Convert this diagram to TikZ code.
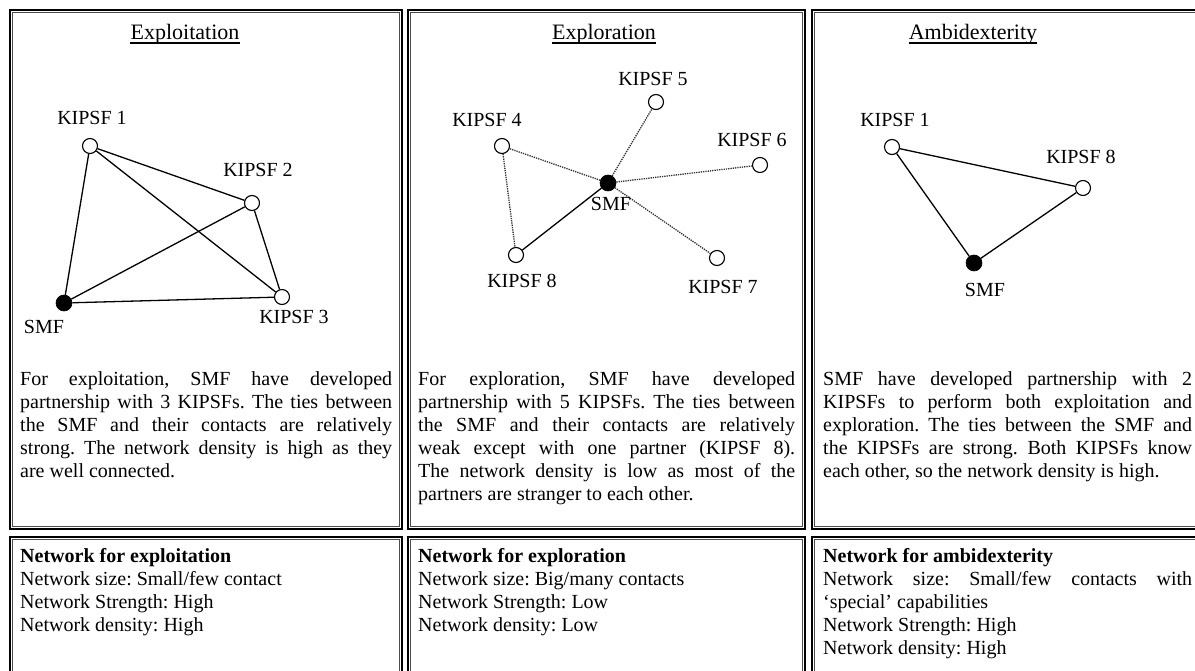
\documentclass[tikz,border=0pt]{standalone}
\usepackage{fontspec}
\setmainfont{Liberation Serif}
\hyphenpenalty=10000
\exhyphenpenalty=10000
\frenchspacing
\newcommand{\parsetup}{\frenchspacing\lefthyphenmin=62\righthyphenmin=62\hyphenpenalty=10000\exhyphenpenalty=10000\tolerance=9999\emergencystretch=20pt}
\begin{document}
\begin{tikzpicture}[x=1pt,y=-1pt,
  panelout/.style={draw=black, line width=1.3pt},
  panelin/.style={draw=black!70, line width=0.7pt},
  kip/.style={circle, draw, line width=1.1pt, fill=white, minimum size=15pt, inner sep=0pt},
  smf/.style={circle, fill=black, draw, line width=0.6pt, minimum size=16pt, inner sep=0pt},
  lab/.style={font=\fontsize{20}{23}\selectfont, inner sep=0pt},
  ttl/.style={font=\fontsize{22}{26}\selectfont, anchor=base, inner sep=0pt},
  tie/.style={line width=1.3pt},
  weaktie/.style={line width=1.3pt, densely dotted, black!80},
  para/.style={anchor=north west, inner sep=0pt, align=justify, font=\fontsize{20}{23}\selectfont},
]
\useasboundingbox (0,0) rectangle (1195,671);
\clip (0,0) rectangle (1195,671);
\fill[white] (0,0) rectangle (1195,671);

% boxes (double borders)
\foreach \xa/\xb in {10/402, 408/805, 812/1215}{
  \draw[panelout] (\xa,10) rectangle (\xb,529);
  \draw[panelin] (\xa+2.5,12.5) rectangle (\xb-2.5,526.5);
  \draw[panelout] (\xa,537) rectangle (\xb,700);
  \draw[panelin] (\xa+2.5,539.5) rectangle (\xb-2.5,700);
}

% titles
\node[ttl] (t1) at (185,40) {Exploitation};
\node[ttl] (t2) at (604,40) {Exploration};
\node[ttl] (t3) at (973,40) {Ambidexterity};
\foreach \t in {t1,t2,t3}{
  \draw[line width=1.5pt] ([yshift=-3pt]\t.base west) -- ([yshift=-3pt]\t.base east);
}

% ---- Exploitation network
\node[kip] (a1) at (90,146) {};
\node[kip] (a2) at (252,203) {};
\node[kip] (a3) at (282,297) {};
\node[smf] (as) at (64,303) {};
\draw[tie] (as) -- (a1);
\draw[tie] (as) -- (a2);
\draw[tie] (as) -- (a3);
\draw[tie] (a1) -- (a2);
\draw[tie] (a1) -- (a3);
\draw[tie] (a2) -- (a3);
\node[lab] (la1) at (92,118) {KIPSF 1};
\node[lab] (la2) at (258,170) {KIPSF 2};
\node[lab] (la3) at (294,317) {KIPSF 3};
\node[lab] (las) at (44,327) {SMF};

% ---- Exploration network
\node[kip] (b5) at (656,102) {};
\node[kip] (b4) at (502,146) {};
\node[kip] (b6) at (760,165) {};
\node[kip] (b8) at (516,255) {};
\node[kip] (b7) at (717,258) {};
\node[smf] (bs) at (608,183) {};
\draw[weaktie] (bs) -- (b4);
\draw[weaktie] (bs) -- (b5);
\draw[weaktie] (bs) -- (b6);
\draw[weaktie] (bs) -- (b7);
\draw[weaktie] (b4) -- (b8);
\draw[tie] (bs) -- (b8);
\node[lab] (lb5) at (653,79) {KIPSF 5};
\node[lab] (lb4) at (487,120) {KIPSF 4};
\node[lab] (lb6) at (752,140) {KIPSF 6};
\node[lab] (lbs) at (611,204) {SMF};
\node[lab] (lb8) at (522,281) {KIPSF 8};
\node[lab] (lb7) at (723,287) {KIPSF 7};

% ---- Ambidexterity network
\node[kip] (c1) at (892,147) {};
\node[kip] (c8) at (1083,188) {};
\node[smf] (cs) at (974,263) {};
\draw[tie] (cs) -- (c1);
\draw[tie] (cs) -- (c8);
\draw[tie] (c1) -- (c8);
\node[lab] (lc1) at (895,120) {KIPSF 1};
\node[lab] (lc8) at (1081,157) {KIPSF 8};
\node[lab] (lcs) at (985,290) {SMF};

% ---- paragraphs
\node[para, text width=372pt] (p1) at (20,371) {\parsetup For exploitation, SMF have developed\linebreak partnership with 3 KIPSFs. The ties between\linebreak the SMF and their contacts are relatively\linebreak strong. The network density is high as they\linebreak are well connected.};
\node[para, text width=377pt] (p2) at (418,371) {\parsetup For exploration, SMF have developed\linebreak partnership with 5 KIPSFs. The ties between\linebreak the SMF and their contacts are relatively\linebreak weak except with one partner (KIPSF 8).\linebreak The network density is low as most of the\linebreak partners are stranger to each other.};
\node[para, text width=369pt] (p3) at (823,371) {\parsetup SMF have developed partnership with 2\linebreak KIPSFs to perform both exploitation and\linebreak exploration. The ties between the SMF and\linebreak the KIPSFs are strong. Both KIPSFs know\linebreak each other, so the network density is high.};

% ---- bottom boxes
\node[para, text width=372pt] (q1) at (20,548) {\parsetup\textbf{Network for exploitation}\\ Network size: Small/few contact\\ Network Strength: High\\ Network density: High};
\node[para, text width=377pt] (q2) at (418,548) {\parsetup\textbf{Network for exploration}\\ Network size: Big/many contacts\\ Network Strength: Low\\ Network density: Low};
\node[para, text width=369pt] (q3) at (823,548) {\parsetup\textbf{Network for ambidexterity}\\ Network size: Small/few contacts with\linebreak ‘special’ capabilities\\ Network Strength: High\\ Network density: High};
\end{tikzpicture}
\end{document}
